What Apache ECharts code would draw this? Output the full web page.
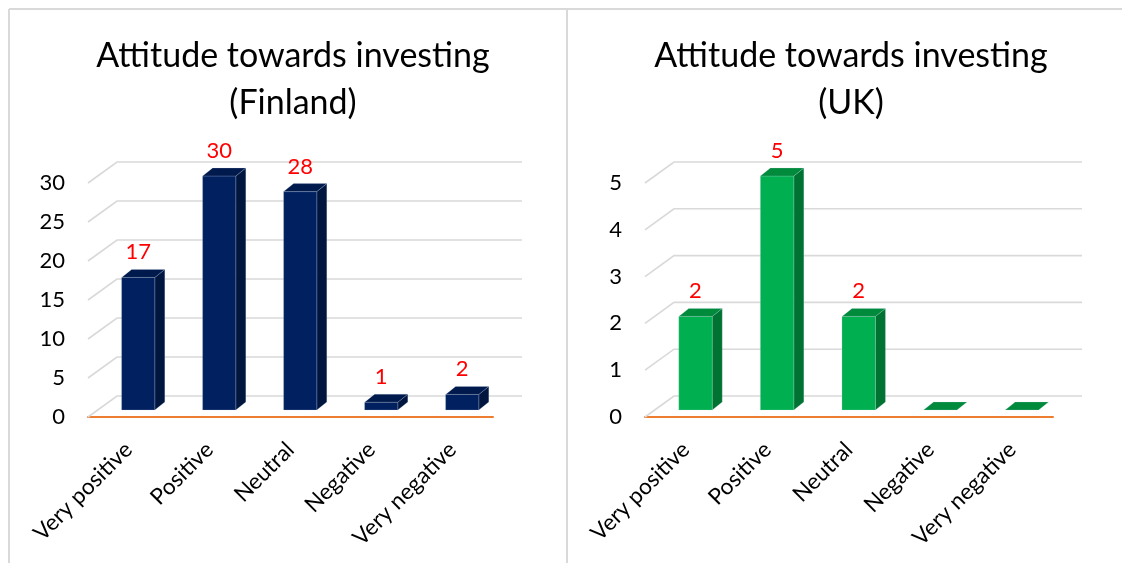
<!DOCTYPE html>
<html>
<head>
<meta charset="utf-8">
<title>Attitude towards investing</title>
<script src="https://cdn.jsdelivr.net/npm/echarts@6/dist/echarts.min.js"></script>
<style>
  html, body { margin: 0; padding: 0; background: #ffffff; }
  #chart { width: 1122px; height: 563px; }
</style>
</head>
<body>
<div id="chart"></div>
<script>
// Survey answers per country
const categories = ['Very positive', 'Positive', 'Neutral', 'Negative', 'Very negative'];
const finlandValues = [17, 30, 28, 1, 2];
const ukValues = [2, 5, 2, 0, 0];
const finlandTicks = [0, 5, 10, 15, 20, 25, 30];
const ukTicks = [0, 1, 2, 3, 4, 5];

const FONT = 'Lato';
const WALL_DX = 29, WALL_DY = -21;   // depth of the floor / back wall
const BAR_DX = 9.7, BAR_DY = -7;     // bar front face sits a third into the floor
const BAR_DEPTH_X = 10, BAR_DEPTH_Y = -8;
const BAR_WIDTH_RATIO = 0.41;

// Back wall gridlines: short diagonal on the side wall, then across the back
function wallRenderer(params, api) {
  const cs = params.coordSys;
  const y = api.coord([0, api.value(1)])[1];
  const x0 = cs.x, x1 = cs.x + cs.width;
  return {
    type: 'polyline',
    shape: { points: [[x0, y], [x0 + WALL_DX, y + WALL_DY], [x1 + WALL_DX, y + WALL_DY]] },
    style: { stroke: '#d9d9d9', lineWidth: 1.6, fill: null },
    silent: true
  };
}

// Pseudo-3D column: front face, right side and top
function barRenderer(colors) {
  return function (params, api) {
    const idx = api.value(0);
    const val = api.value(1);
    const top = api.coord([idx, val]);
    const base = api.coord([idx, 0]);
    const band = api.size([1, 0])[0];
    const w = band * BAR_WIDTH_RATIO;
    const cx = top[0] + BAR_DX;
    const xl = cx - w / 2, xr = cx + w / 2;
    const yt = top[1] + BAR_DY, yb = base[1] + BAR_DY;
    const dx = BAR_DEPTH_X, dy = BAR_DEPTH_Y;
    const edge = 'rgba(200,215,235,0.35)';
    const children = [];
    if (yb - yt > 0.5) {
      children.push({
        type: 'polygon',
        shape: { points: [[xr, yt], [xr + dx, yt + dy], [xr + dx, yb + dy], [xr, yb]] },
        style: { fill: colors.side, stroke: edge, lineWidth: 0.6 }
      });
      children.push({
        type: 'rect',
        shape: { x: xl, y: yt, width: w, height: yb - yt },
        style: { fill: colors.face, stroke: edge, lineWidth: 0.6 }
      });
    }
    children.push({
      type: 'polygon',
      shape: { points: [[xl, yt], [xl + dx, yt + dy], [xr + dx, yt + dy], [xr, yt]] },
      style: { fill: colors.top, stroke: edge, lineWidth: 0.6 }
    });
    if (val > 0) {
      children.push({
        type: 'text',
        style: {
          text: String(val), x: cx, y: yt - 25,
          align: 'center', verticalAlign: 'middle',
          fill: '#ff0000', font: '22px ' + FONT
        }
      });
    }
    return { type: 'group', children: children };
  };
}

function panelAxes(gridIndex, max, interval) {
  return {
    x: {
      type: 'category', gridIndex: gridIndex, data: categories,
      axisLine: { show: true, lineStyle: { color: '#ed7d31', width: 2 } },
      axisTick: { show: false },
      axisLabel: {
        interval: 0, rotate: 45, margin: 29, color: '#000000',
        fontFamily: FONT, fontSize: 22.5
      },
      splitLine: { show: false }
    },
    y: {
      type: 'value', gridIndex: gridIndex, min: 0, max: max, interval: interval,
      axisLine: { show: false }, axisTick: { show: false },
      splitLine: { show: false },
      axisLabel: { margin: 23, color: '#000000', fontFamily: FONT, fontSize: 22 }
    }
  };
}

const left = panelAxes(0, 30, 5);
const right = panelAxes(1, 5, 1);

const titleStyle = { fontFamily: FONT, fontSize: 34, fontWeight: 'normal', color: '#000000', lineHeight: 47 };

const option = {
  backgroundColor: '#ffffff',
  animation: false,
  title: [
    { text: 'Attitude towards investing\n(Finland)', left: 288, top: 28, textAlign: 'center', textStyle: titleStyle },
    { text: 'Attitude towards investing\n(UK)', left: 846, top: 28, textAlign: 'center', textStyle: titleStyle }
  ],
  grid: [
    { left: 88, right: 629, top: 183, bottom: 146 },
    { left: 645, right: 69, top: 183, bottom: 146 }
  ],
  xAxis: [left.x, right.x],
  yAxis: [left.y, right.y],
  graphic: [
    { type: 'line', shape: { x1: 9, y1: 9, x2: 1122, y2: 9 }, style: { stroke: '#d9d9d9', lineWidth: 2 }, silent: true },
    { type: 'line', shape: { x1: 9, y1: 9, x2: 9, y2: 563 }, style: { stroke: '#d9d9d9', lineWidth: 2 }, silent: true },
    { type: 'line', shape: { x1: 567, y1: 9, x2: 567, y2: 563 }, style: { stroke: '#d9d9d9', lineWidth: 2 }, silent: true }
  ],
  series: [
    {
      type: 'custom', name: 'wallFinland', xAxisIndex: 0, yAxisIndex: 0, z: 1,
      data: finlandTicks.map(v => [0, v]), renderItem: wallRenderer, silent: true
    },
    {
      type: 'custom', name: 'wallUK', xAxisIndex: 1, yAxisIndex: 1, z: 1,
      data: ukTicks.map(v => [0, v]), renderItem: wallRenderer, silent: true
    },
    {
      type: 'custom', name: 'Finland', xAxisIndex: 0, yAxisIndex: 0, z: 3,
      data: finlandValues.map((v, i) => [i, v]),
      renderItem: barRenderer({ face: '#002060', side: '#00163f', top: '#001a4e' })
    },
    {
      type: 'custom', name: 'UK', xAxisIndex: 1, yAxisIndex: 1, z: 3,
      data: ukValues.map((v, i) => [i, v]),
      renderItem: barRenderer({ face: '#00b050', side: '#007232', top: '#008b3c' })
    }
  ]
};

const chart = echarts.init(document.getElementById('chart'), null, { renderer: 'canvas' });
chart.setOption(option);
</script>
</body>
</html>
